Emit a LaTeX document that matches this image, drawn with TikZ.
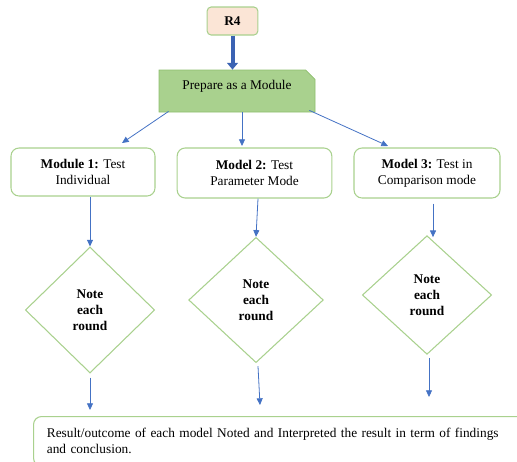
\documentclass[tikz,border=0pt]{standalone}
\usepackage{fontspec}
\setmainfont{Liberation Serif}
\usetikzlibrary{arrows.meta,shapes.geometric,shapes.misc,calc}

\definecolor{lgreen}{HTML}{A9D18E}
\definecolor{dgreen}{HTML}{8DBE6E}
\definecolor{peach}{HTML}{FBE5D6}
\definecolor{lblue}{HTML}{4472C4}
\definecolor{dblue}{HTML}{3B63B3}

\begin{document}
\begin{tikzpicture}[x=0.75pt, y=-0.75pt, font=\fontsize{10}{12}\selectfont,
    box/.style={draw=lgreen, line width=0.8pt, rounded corners=6pt, fill=white, align=center},
    dia/.style={diamond, draw=lgreen, line width=0.8pt, inner sep=0pt, align=center, font=\fontsize{10}{12}\selectfont\bfseries},
    link/.style={draw=lblue, line width=0.6pt, -{Triangle[width=4.5pt,length=5pt]}}]
  \useasboundingbox (0,0) rectangle (517,461);
  \clip (0,0) rectangle (517,461);

  % top
  \node[box, fill=peach, rounded corners=3pt, minimum width=38pt, minimum height=21pt, font=\fontsize{10}{12}\selectfont\bfseries] (r4) at (232.5,21) {R4};
  \node[chamfered rectangle, chamfered rectangle corners=north east, chamfered rectangle xsep=4pt,
        draw=dgreen, fill=lgreen, line width=0.6pt, text depth=9pt, minimum width=117pt, minimum height=31.5pt] (prep) at (237,91) {Prepare as a Module};

  % modules
  \node[box, minimum width=108pt, minimum height=36pt] (m1) at (83,172) {\textbf{Module 1:} Test\\Individual};
  \node[box, minimum width=116pt, minimum height=37.5pt] (m2) at (254.5,173) {\textbf{Model 2:} Test\\Parameter Mode};
  \node[box, minimum width=109.5pt, minimum height=37.5pt] (m3) at (427,173) {\textbf{Model 3:} Test in\\Comparison mode};

  % notes
  \node[dia, minimum width=97pt, minimum height=94.5pt] (d1) at (90,310) {Note\\each\\round};
  \node[dia, minimum width=101pt, minimum height=94pt] (d2) at (256,300) {Note\\each\\round};
  \node[dia, minimum width=97pt, minimum height=89pt] (d3) at (427,295) {Note\\each\\round};

  % result
  \node[box, anchor=north west, align=left, text width=362pt, inner xsep=10pt, inner ysep=9pt] (res) at (33,416)
    {Result/outcome of each model Noted and Interpreted the result in term of findings\\and conclusion.};

  \coordinate (a1) at (122,143);
  \coordinate (a2) at (242,146);
  \coordinate (a3) at (388,146);

  \draw[draw=dblue, line width=3pt, -{Triangle[width=8pt,length=5pt]}] (r4.south) -- (r4.south |- prep.north);
  \draw[link] ($(prep.south west)+(10,-1)$) -- (a1);
  \draw[link] (a2 |- prep.south) -- (a2);
  \draw[link] ($(prep.south east)+(-6,-2)$) -- (a3);

  \draw[link] (d1.north |- m1.south) -- (d1.north);
  \draw[link] ($(m2.south)+(3.5,0)$) -- (d2.north);
  \draw[link] ($(m3.south)+(6,5)$) -- ($(d3.north)+(6,2)$);

  \draw[link] ($(d1.south)+(0,4)$) -- ($(d1.south |- res.north)+(0,-6)$);
  \draw[link] ($(d2.south)+(2,3)$) -- ($(d2.south |- res.north)+(4,-11)$);
  \draw[link] ($(d3.south)+(2,3)$) -- ($(d3.south |- res.north)+(2,-19)$);
\end{tikzpicture}
\end{document}
